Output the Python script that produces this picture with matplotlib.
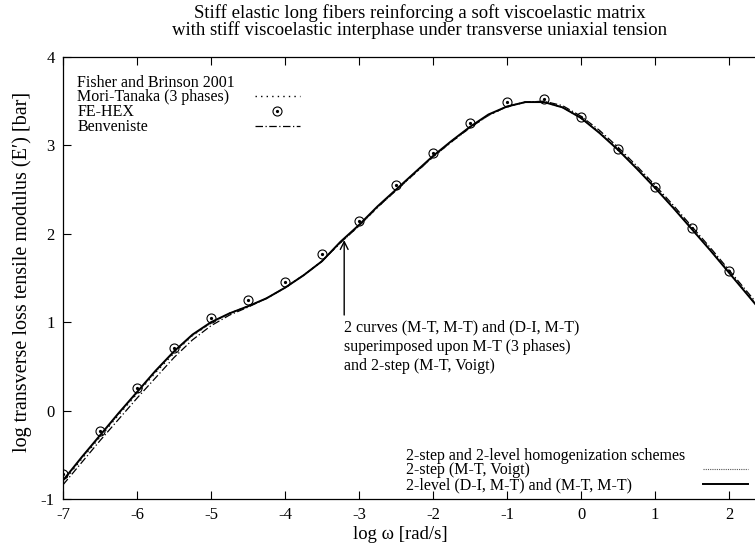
import matplotlib
matplotlib.use("Agg")
import matplotlib.pyplot as plt
from matplotlib.lines import Line2D
from matplotlib.legend_handler import HandlerTuple

plt.rcParams['font.family'] = ['Liberation Serif', 'DejaVu Serif']
plt.rcParams['axes.unicode_minus'] = False

# x grid (log omega) for the computed curves
log_w = [-7.0, -6.75, -6.5, -6.25, -6.0, -5.75, -5.5, -5.25, -5.0, -4.75,
         -4.5, -4.25, -4.0, -3.75, -3.5, -3.25, -3.0, -2.75, -2.5, -2.25,
         -2.0, -1.75, -1.5, -1.25, -1.0, -0.75, -0.5, -0.25, 0.0, 0.25,
         0.5, 0.75, 1.0, 1.25, 1.5, 1.75, 2.0, 2.25, 2.5]

# 2-level (D-I, M-T) and (M-T, M-T)
two_level = [-0.79, -0.53, -0.28, -0.03, 0.21, 0.45, 0.67, 0.86, 1.00, 1.10,
             1.18, 1.27, 1.39, 1.53, 1.69, 1.91, 2.10, 2.31, 2.50, 2.69,
             2.88, 3.05, 3.21, 3.35, 3.44, 3.49, 3.49, 3.43, 3.31, 3.14,
             2.95, 2.74, 2.52, 2.29, 2.05, 1.81, 1.56, 1.31, 1.06]

# 2-step (M-T, Voigt)
two_step = [-0.80, -0.54, -0.29, -0.04, 0.20, 0.44, 0.66, 0.85, 0.99, 1.10,
            1.18, 1.27, 1.39, 1.53, 1.69, 1.90, 2.09, 2.30, 2.49, 2.69,
            2.87, 3.05, 3.21, 3.34, 3.44, 3.49, 3.49, 3.43, 3.31, 3.14,
            2.95, 2.74, 2.52, 2.29, 2.05, 1.81, 1.56, 1.31, 1.06]

# Mori-Tanaka (3 phases)
mori_tanaka = [-0.81, -0.55, -0.30, -0.05, 0.19, 0.43, 0.65, 0.85, 0.99, 1.10,
               1.18, 1.27, 1.39, 1.53, 1.69, 1.90, 2.09, 2.30, 2.49, 2.68,
               2.87, 3.04, 3.20, 3.34, 3.44, 3.49, 3.49, 3.43, 3.31, 3.15,
               2.96, 2.75, 2.53, 2.30, 2.06, 1.82, 1.57, 1.32, 1.07]

# Benveniste
benveniste = [-0.84, -0.59, -0.34, -0.10, 0.14, 0.37, 0.60, 0.80, 0.96, 1.08,
              1.17, 1.27, 1.39, 1.53, 1.69, 1.90, 2.09, 2.30, 2.49, 2.68,
              2.87, 3.04, 3.20, 3.34, 3.44, 3.49, 3.50, 3.45, 3.33, 3.17,
              2.98, 2.77, 2.55, 2.32, 2.08, 1.84, 1.59, 1.34, 1.09]

# FE-HEX points
fe_x = [-7.0, -6.5, -6.0, -5.5, -5.0, -4.5, -4.0, -3.5, -3.0, -2.5,
        -2.0, -1.5, -1.0, -0.5, 0.0, 0.5, 1.0, 1.5, 2.0]
fe_y = [-0.72, -0.23, 0.26, 0.71, 1.05, 1.25, 1.45, 1.77, 2.15, 2.55,
        2.91, 3.25, 3.49, 3.52, 3.32, 2.96, 2.53, 2.07, 1.58]

labels_top = ['Fisher and Brinson 2001', 'Mori-Tanaka (3 phases)', 'FE-HEX',
              'Benveniste']
labels_bottom = ['2-step and 2-level homogenization schemes',
                 '2-step (M-T, Voigt)', '2-level (D-I, M-T) and (M-T, M-T)']

fig = plt.figure(figsize=(7.55, 5.48), dpi=100)
ax = fig.add_axes([0.0834, 0.0894, 0.9166, 0.8066])

l_mt, = ax.plot(log_w, mori_tanaka, color='black', lw=1.0, ls=(0, (1, 3)))
l_ben, = ax.plot(log_w, benveniste, color='black', lw=0.9, ls=(0, (6, 2, 1, 2)))
l_2s, = ax.plot(log_w, two_step, color='#555555', lw=0.8, ls=(0, (1, 1)))
l_2l, = ax.plot(log_w, two_level, color='black', lw=1.4)
fe_c, = ax.plot(fe_x, fe_y, ls='none', marker='o', ms=6.5, mfc='none',
                mec='black', mew=0.8)
fe_d, = ax.plot(fe_x, fe_y, ls='none', marker='o', ms=1.3, color='black')

ax.set_xlim(-7, 2.351)
ax.set_ylim(-1, 4)
ax.set_xticks(range(-7, 3))
ax.set_yticks(range(-1, 5))
ax.tick_params(direction='in', length=6, width=0.8, top=True, right=False,
               labelsize=12, pad=6)
ax.spines['right'].set_visible(False)
for s in ['left', 'top', 'bottom']:
    ax.spines[s].set_linewidth(0.9)

ax.set_xlabel('log \u03c9 [rad/s]', fontsize=13.5, va='center')
ax.xaxis.set_label_coords(0.488, -0.081)
ax.set_ylabel('log transverse loss tensile modulus (E\u2032) [bar]',
              fontsize=14.5, va='center')
ax.yaxis.set_label_coords(-0.059, 0.514)

fig.text(0.556, 0.992, 'Stiff elastic long fibers reinforcing a soft viscoelastic matrix\n'
         'with stiff viscoelastic interphase under transverse uniaxial tension',
         ha='center', va='top', fontsize=13.5, linespacing=0.95)

ax.annotate('', xy=(-3.2, 1.96), xytext=(-3.2, 1.05),
            arrowprops=dict(arrowstyle='->', color='black', lw=1.0,
                            mutation_scale=14))
ax.text(-3.2, 1.03, '2 curves (M-T, M-T) and (D-I, M-T)\n'
        'superimposed upon M-T (3 phases)\nand 2-step (M-T, Voigt)',
        ha='left', va='top', fontsize=11.5, linespacing=1.25)

blank = Line2D([], [], ls='none')
common = dict(frameon=False, fontsize=11.5, labelspacing=-0.08, borderpad=0,
              borderaxespad=0, handleheight=0.5, loc='upper left')

# top key: labels column, then samples column
leg1 = ax.legend([blank] * 4, labels_top, bbox_to_anchor=(0.021, 0.96),
                 handlelength=0, handletextpad=0, **common)
ax.add_artist(leg1)
leg1b = ax.legend([blank, l_mt, (fe_c, fe_d), l_ben], [' '] * 4,
                  handler_map={tuple: HandlerTuple(ndivide=1, pad=0)},
                  bbox_to_anchor=(0.2775, 0.96), handlelength=2.8,
                  handletextpad=0, **common)
ax.add_artist(leg1b)

# bottom key
leg2 = ax.legend([blank] * 3, labels_bottom, bbox_to_anchor=(0.4957, 0.1165),
                 handlelength=0, handletextpad=0, **common)
ax.add_artist(leg2)
ax.legend([blank, l_2s, l_2l], [' '] * 3, bbox_to_anchor=(0.925, 0.1165),
          handlelength=2.8, handletextpad=0, **common)

fig.savefig('out.png', dpi=100)
